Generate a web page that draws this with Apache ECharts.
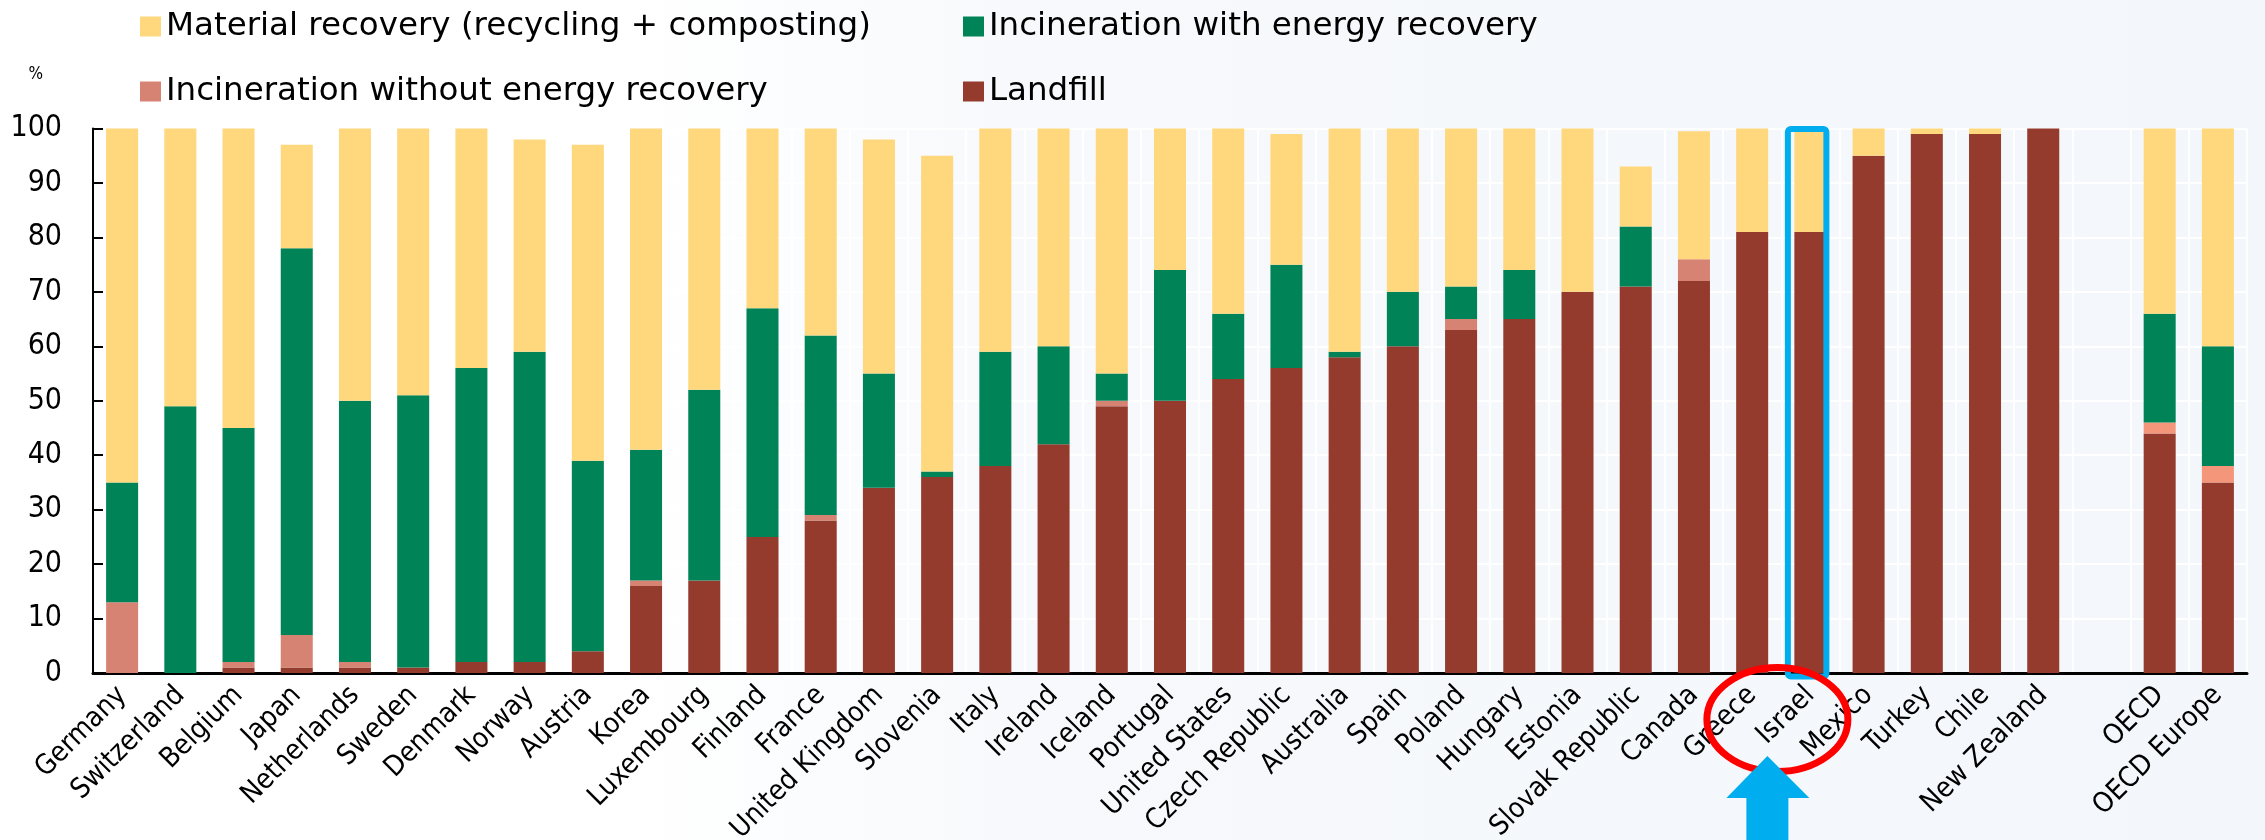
<!DOCTYPE html>
<html>
<head>
<meta charset="utf-8">
<script src="https://cdn.jsdelivr.net/npm/echarts@6/dist/echarts.min.js"></script>
<style>
  html, body { margin: 0; padding: 0; }
  #chart { width: 2265px; height: 840px; }
</style>
</head>
<body>
<div id="chart"></div>
<script>
const categories = ['Germany','Switzerland','Belgium','Japan','Netherlands','Sweden','Denmark','Norway','Austria','Korea','Luxembourg','Finland','France','United Kingdom','Slovenia','Italy','Ireland','Iceland','Portugal','United States','Czech Republic','Australia','Spain','Poland','Hungary','Estonia','Slovak Republic','Canada','Greece','Israel','Mexico','Turkey','Chile','New Zealand','','OECD','OECD Europe'];
const landfill =      [0,0,1,1,1,1,2,2,4,16,17,25,28,34,36,38,42,49,50,54,56,58,60,63,65,70,71,72,81,81,95,99,99,100,null,44,35];
const incinNoEnergy = [13,0,1,6,1,0,0,0,0,1,0,0,1,0,0,0,0,1,0,0,0,0,0,2,0,0,0,4,0,0,0,0,0,0,null,2,3];
const incinEnergy =   [22,49,43,71,48,50,54,57,35,24,35,42,33,21,1,21,18,5,24,12,19,1,10,6,9,0,11,0,0,0,0,0,0,0,null,20,22];
const material =      [65,51,55,19,50,49,44,39,58,59,48,33,38,43,58,41,40,45,26,34,24,41,30,29,26,30,11,23.5,19,19,5,1,1,0,null,34,40];
const seriesNames = ['Material recovery (recycling + composting)','Incineration with energy recovery','Incineration without energy recovery','Landfill'];
const highlightCategory = 'Israel';

const FONT = "'DejaVu Sans Condensed', 'DejaVu Sans', sans-serif";
const LEGEND_FONT = "'DejaVu Sans', sans-serif";
const colors = { material: '#ffd77c', energy: '#008457', noEnergy: '#d68373', noEnergyAgg: '#f49679', landfill: '#943b2e' };

const chart = echarts.init(document.getElementById('chart'), null, { renderer: 'canvas' });

const legendText = { fontFamily: LEGEND_FONT, fontSize: 32.5, lineHeight: 30, color: '#000' };
const legendBase = { orient: 'vertical', top: 10, itemWidth: 21, itemHeight: 20, itemGap: 32,
  textStyle: legendText, icon: 'rect', padding: 0 };
const option = {
  animation: false,
  backgroundColor: {
    type: 'linear', x: 0, y: 0, x2: 1, y2: 0,
    colorStops: [
      { offset: 0, color: '#ffffff' },
      { offset: 0.28, color: '#ffffff' },
      { offset: 0.45, color: '#f7f9fc' },
      { offset: 1, color: '#f3f7fb' }
    ]
  },
  legend: [
    Object.assign({}, legendBase, { left: 140, data: [
      { name: seriesNames[0], itemStyle: { color: colors.material } },
      { name: seriesNames[2], itemStyle: { color: colors.noEnergy } }
    ] }),
    Object.assign({}, legendBase, { left: 963, data: [
      { name: seriesNames[1], itemStyle: { color: colors.energy } },
      { name: seriesNames[3], itemStyle: { color: colors.landfill } }
    ] })
  ],
  grid: { left: 93, right: 18, top: 128.5, bottom: 167, containLabel: false, outerBoundsMode: 'none' },
  xAxis: {
    type: 'category',
    data: categories,
    axisLine: { lineStyle: { color: '#000', width: 3 } },
    axisTick: { inside: true, length: 9, lineStyle: { color: '#000', width: 2 } },
    axisLabel: { interval: 0, rotate: 45, margin: 18, fontFamily: FONT, fontSize: 28, color: '#000' },
    splitLine: { show: true, interval: 0, lineStyle: { color: '#ffffff', width: 2 } }
  },
  yAxis: {
    type: 'value', min: 0, max: 100, interval: 10,
    name: '%', nameLocation: 'end', nameGap: 0,
    nameTextStyle: { fontFamily: FONT, fontSize: 17, color: '#000', align: 'right', padding: [0, 50, 45, 0] },
    axisLine: { show: true, lineStyle: { color: '#000', width: 2 } },
    axisTick: { show: true, inside: true, length: 10, lineStyle: { color: '#000', width: 2 } },
    axisLabel: { margin: 31, fontFamily: FONT, fontSize: 30, color: '#000' },
    splitLine: { show: true, lineStyle: { color: '#ffffff', width: 2 } }
  },
  series: [
    { name: seriesNames[3], type: 'bar', stack: 'total', data: landfill, barCategoryGap: '45%',
      itemStyle: { color: colors.landfill } },
    { name: seriesNames[2], type: 'bar', stack: 'total', data: incinNoEnergy,
      itemStyle: { color: p => (p.dataIndex >= 35 ? colors.noEnergyAgg : colors.noEnergy) } },
    { name: seriesNames[1], type: 'bar', stack: 'total', data: incinEnergy,
      itemStyle: { color: colors.energy } },
    { name: seriesNames[0], type: 'bar', stack: 'total', data: material,
      itemStyle: { color: colors.material } }
  ]
};
chart.setOption(option);

// Annotations positioned from the axis scales
const hiIdx = categories.indexOf(highlightCategory);
const pTop = chart.convertToPixel({ gridIndex: 0 }, [hiIdx, 100]);
const pBase = chart.convertToPixel({ gridIndex: 0 }, [hiIdx, 0]);
const cx = pBase[0];
const blue = '#00aeef';
chart.setOption({
  graphic: [
    { type: 'rect', z: 100,
      shape: { x: cx - 22.5, y: pTop[1] + 0.5, width: 38.5, height: pBase[1] - pTop[1] + 3, r: 3 },
      style: { fill: null, stroke: blue, lineWidth: 6 } },
    { type: 'ellipse', z: 100,
      shape: { cx: cx - 33, cy: pBase[1] + 46.5, rx: 70.5, ry: 52 },
      style: { fill: null, stroke: '#ff0000', lineWidth: 7 } },
    { type: 'polygon', z: 100,
      shape: { points: [
        [cx - 43, pBase[1] + 83], [cx - 1, pBase[1] + 125], [cx - 22, pBase[1] + 125],
        [cx - 22, 845], [cx - 64, 845], [cx - 64, pBase[1] + 125], [cx - 84, pBase[1] + 125]
      ] },
      style: { fill: blue } }
  ]
});
</script>
</body>
</html>
